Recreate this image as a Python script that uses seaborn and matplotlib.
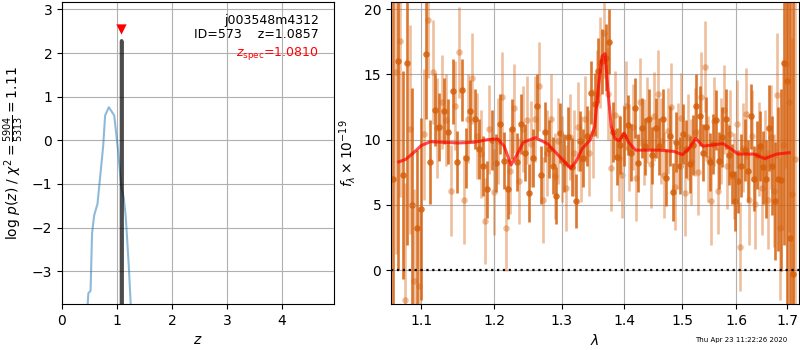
import numpy as np
import pandas as pd
import matplotlib
matplotlib.use("Agg")
import matplotlib.pyplot as plt
import seaborn as sns
from matplotlib.ticker import FixedLocator, FixedFormatter, NullLocator

# ---- p(z) panel ----
pz_z = [0.455, 0.48, 0.52, 0.547, 0.585, 0.645, 0.687, 0.748, 0.785, 0.852,
        0.95, 1.02, 1.08, 1.125, 1.16, 1.216, 1.25, 1.26]
pz_logp = [-4.0, -3.5, -3.45, -2.13, -1.72, -1.46, -0.93, -0.15, 0.57, 0.76,
           0.57, -0.23, -1.07, -1.32, -1.75, -2.89, -3.75, -4.0]
fine_z = [1.084, 1.0857, 1.0874]
fine_logp = [-4.0, 2.28, -4.0]
z_best = 1.0857
z_spec = 1.0810

# ---- spectrum panel: first (dark) spectrum ----
wave_a = [1.064, 1.070, 1.076, 1.082, 1.088, 1.094, 1.100, 1.106, 1.112, 1.118,
          1.124, 1.130, 1.136, 1.142, 1.148, 1.154, 1.160, 1.166, 1.172, 1.178,
          1.184, 1.190, 1.196, 1.202, 1.208, 1.214, 1.220, 1.226, 1.232, 1.238,
          1.244, 1.250, 1.256, 1.262, 1.268, 1.274, 1.280, 1.286, 1.292, 1.298,
          1.304, 1.310, 1.316, 1.322, 1.328, 1.334, 1.340, 1.346, 1.352, 1.358,
          1.364, 1.370, 1.376, 1.382, 1.388, 1.394, 1.400, 1.406, 1.412, 1.418,
          1.424, 1.430, 1.436, 1.442, 1.448, 1.454, 1.460, 1.466, 1.472, 1.478,
          1.484, 1.490, 1.496, 1.502, 1.508, 1.514, 1.520, 1.526, 1.532, 1.538,
          1.544, 1.550, 1.556, 1.562, 1.568, 1.574, 1.580, 1.586, 1.592, 1.598,
          1.604, 1.610, 1.616, 1.622, 1.628, 1.634, 1.640, 1.646, 1.652, 1.658,
          1.664, 1.670, 1.676, 1.682, 1.688, 1.694, 1.700, 1.706, 1.712]
flux_a = [7.0, 16.0, 7.3, 15.9, 5.0, 3.2, 4.7, 16.6, 8.3, 12.3,
          11.0, 12.2, 10.6, 13.7, 8.3, 13.8, 8.6, 12.2, 11.6, 9.3,
          8.0, 6.2, 10.0, 8.2, 11.2, 8.4, 6.2, 10.8, 8.3, 11.2,
          9.0, 5.9, 8.6, 12.6, 7.3, 10.6, 9.3, 8.0, 5.7, 10.5,
          8.2, 10.2, 7.9, 5.3, 9.9, 8.6, 10.3, 13.6, 12.7, 15.3,
          16.0, 16.3, 17.5, 10.6, 8.7, 9.6, 10.3, 11.1, 9.0, 12.4,
          8.2, 10.9, 9.5, 11.6, 8.8, 10.9, 9.5, 11.6, 7.1, 10.3,
          6.0, 9.8, 8.0, 10.4, 9.3, 8.1, 9.6, 12.6, 11.8, 9.0,
          11.0, 8.3, 9.7, 11.5, 8.4, 10.2, 11.6, 8.8, 7.4, 5.3,
          6.8, 8.0, 9.2, 7.6, 11.8, 7.0, 8.8, 9.5, 7.9, 7.0,
          10.9, 8.0, 5.3, 7.0, 6.9, 15.9, 14.5, 2.5, -0.3]
err_a = [14, 16, 8, 14, 9, 6, 7, 5, 3.2, 2.8,
         2.6, 2.5, 2.5, 2.5, 2.4, 2.4, 2.3, 2.4, 2.3, 2.3,
         2.3, 2.2, 2.3, 2.2, 2.3, 2.2, 2.3, 2.3, 2.2, 2.3,
         2.2, 2.2, 2.2, 2.4, 2.2, 2.3, 2.2, 2.2, 2.2, 2.3,
         2.2, 2.3, 2.2, 2.1, 2.3, 2.2, 2.3, 2.4, 2.4, 2.5,
         2.5, 2.6, 2.5, 2.3, 2.2, 2.2, 2.3, 2.3, 2.2, 2.3,
         2.2, 2.3, 2.2, 2.3, 2.2, 2.3, 2.2, 2.3, 2.2, 2.3,
         2.2, 2.3, 2.2, 2.3, 2.2, 2.2, 2.3, 2.4, 2.3, 2.2,
         2.3, 2.2, 2.3, 2.3, 2.2, 2.3, 2.3, 2.3, 2.3, 2.3,
         2.4, 2.4, 2.4, 2.4, 2.5, 2.5, 2.6, 2.7, 2.8, 3.0,
         3.3, 3.8, 4.5, 5.5, 7.0, 14, 20, 25, 30]

# ---- spectrum panel: second (light) spectrum ----
wave_b = [1.067, 1.073, 1.079, 1.085, 1.091, 1.097, 1.103, 1.109, 1.115, 1.121,
          1.127, 1.133, 1.139, 1.145, 1.151, 1.157, 1.163, 1.169, 1.175, 1.181,
          1.187, 1.193, 1.199, 1.205, 1.211, 1.217, 1.223, 1.229, 1.235, 1.241,
          1.247, 1.253, 1.259, 1.265, 1.271, 1.277, 1.283, 1.289, 1.295, 1.301,
          1.307, 1.313, 1.319, 1.325, 1.331, 1.337, 1.343, 1.349, 1.355, 1.361,
          1.367, 1.373, 1.379, 1.385, 1.391, 1.397, 1.403, 1.409, 1.415, 1.421,
          1.427, 1.433, 1.439, 1.445, 1.451, 1.457, 1.463, 1.469, 1.475, 1.481,
          1.487, 1.493, 1.499, 1.505, 1.511, 1.517, 1.523, 1.529, 1.535, 1.541,
          1.547, 1.553, 1.559, 1.565, 1.571, 1.577, 1.583, 1.589, 1.595, 1.601,
          1.607, 1.613, 1.619, 1.625, 1.631, 1.637, 1.643, 1.649, 1.655, 1.661,
          1.667, 1.673, 1.679, 1.685, 1.691, 1.697, 1.703, 1.709, 1.715]
flux_b = [15.2, 17.6, -2.3, 10.8, -0.8, -1.2, 10.4, 19.2, 15.2, 10.9,
          12.9, 11.5, 6.1, 12.6, 16.7, 5.4, 11.6, 14.7, 10.3, 8.9,
          3.8, 10.8, 6.0, 9.9, 13.3, 3.2, 7.6, 12.4, 6.8, 10.8,
          11.5, 9.7, 11.6, 14.1, 5.4, 9.0, 11.6, 7.2, 9.9, 8.5,
          6.3, 10.2, 9.0, 11.0, 8.5, 11.6, 9.0, 10.5, 13.5, 15.9,
          18.2, 13.5, 7.8, 11.9, 8.6, 7.3, 12.6, 9.4, 11.0, 7.1,
          12.9, 9.8, 11.5, 8.1, 11.8, 13.5, 9.9, 7.3, 10.7, 12.5,
          6.4, 9.5, 11.7, 5.9, 10.2, 8.3, 10.6, 7.5, 13.3, 15.6,
          8.5, 5.3, 11.4, 6.1, 9.9, 12.3, 8.0, 10.4, 7.2, 11.2,
          1.8, 9.4, 12.0, 5.4, 10.3, 5.1, 9.3, 6.3, 8.7, 5.4,
          10.2, 6.1, 13.4, 3.2, 9.6, 15.8, 12.9, 5.8, 8.5]
err_b = [14, 12, 9, 8, 7, 6, 5, 4.5, 4.0, 3.8,
         3.6, 3.5, 3.5, 3.4, 3.5, 3.4, 3.4, 3.5, 3.3, 3.4,
         3.3, 3.4, 3.3, 3.3, 3.4, 3.3, 3.3, 3.4, 3.3, 3.3,
         3.4, 3.3, 3.3, 3.4, 3.3, 3.3, 3.4, 3.3, 3.3, 3.3,
         3.3, 3.3, 3.3, 3.4, 3.3, 3.3, 3.3, 3.4, 3.4, 3.5,
         3.5, 3.5, 3.3, 3.4, 3.3, 3.3, 3.4, 3.3, 3.3, 3.3,
         3.4, 3.3, 3.3, 3.3, 3.4, 3.4, 3.3, 3.3, 3.3, 3.4,
         3.3, 3.3, 3.4, 3.3, 3.3, 3.3, 3.4, 3.3, 3.4, 3.5,
         3.3, 3.4, 3.4, 3.3, 3.3, 3.4, 3.3, 3.4, 3.3, 3.4,
         3.4, 3.4, 3.5, 3.5, 3.5, 3.5, 3.6, 3.6, 3.6, 3.8,
         4.0, 4.3, 4.8, 5.5, 6.5, 8.0, 10, 12, 14]

# ---- best-fit model ----
model_wave = [1.071, 1.080, 1.090, 1.100, 1.112, 1.130, 1.150, 1.170, 1.190, 1.205,
              1.214, 1.224, 1.232, 1.242, 1.260, 1.278, 1.295, 1.314, 1.322, 1.332,
              1.345, 1.352, 1.358, 1.364, 1.369, 1.374, 1.379, 1.385, 1.392, 1.400,
              1.408, 1.419, 1.440, 1.460, 1.486, 1.501, 1.512, 1.525, 1.538, 1.555,
              1.575, 1.590, 1.603, 1.634, 1.655, 1.679, 1.704]
model_flux = [8.3, 8.5, 9.0, 9.55, 9.85, 9.8, 9.75, 9.8, 10.0, 10.05,
              9.5, 8.06, 8.8, 9.8, 10.15, 9.7, 8.8, 7.8, 8.3, 9.3,
              10.0, 11.0, 14.0, 16.4, 16.6, 13.5, 11.0, 10.1, 9.9, 10.5,
              9.8, 9.2, 9.2, 9.2, 9.1, 8.85, 9.3, 10.1, 9.5, 9.6,
              9.7, 9.3, 8.9, 8.9, 8.55, 8.9, 9.0]

obj_name = "j003548m4312"
obj_id = 573
chi2_num, chi2_den = 5904, 5313
stamp = "Thu Apr 23 11:22:26 2020"

dark = "#d5600c"
plt.rcParams['font.family'] = ['DejaVu Sans']

fig = plt.figure(figsize=(8, 3.5), dpi=100)
ax1 = fig.add_axes([0.0775, 0.1314, 0.34, 0.8629])
ax2 = fig.add_axes([0.48875, 0.1314, 0.51, 0.8629])

# p(z)
sns.lineplot(x=pz_z, y=pz_logp, ax=ax1, color="C0", alpha=0.5, lw=1.5, sort=False)
sns.lineplot(x=fine_z, y=fine_logp, ax=ax1, color="k", alpha=0.7, lw=2.6, sort=False)
sns.scatterplot(x=[z_spec], y=[2.55], ax=ax1, marker="v", color="red", s=55,
                linewidth=0, zorder=5)
ax1.set_xlim(0, 4.95)
ax1.set_ylim(-3.75, 3.17)
ax1.set_xticks([0, 1, 2, 3, 4])
ax1.set_yticks([-3, -2, -1, 0, 1, 2, 3])
ax1.grid(True, color="#b0b0b0", lw=0.8)
ax1.set_xlabel(r"$z$", fontsize=10)
ax1.set_ylabel(r"log $p(z)$ / $\chi^2=\frac{%d}{%d}=%.2f$"
               % (chi2_num, chi2_den, chi2_num / chi2_den), fontsize=10)
ax1.tick_params(labelsize=10)
ax1.text(0.945, 0.94, obj_name, transform=ax1.transAxes, ha="right", va="center", fontsize=9)
ax1.text(0.945, 0.893, "ID=%d    z=%.4f" % (obj_id, z_best), transform=ax1.transAxes,
         ha="right", va="center", fontsize=9)
ax1.text(0.945, 0.83, r"$z_\mathrm{spec}$=%.4f" % z_spec, transform=ax1.transAxes,
         ha="right", va="center", fontsize=9, color="red")

# spectrum
ax2.errorbar(wave_b, flux_b, yerr=err_b, fmt="none", ecolor=dark, alpha=0.4, elinewidth=1.9)
sns.scatterplot(x=wave_b, y=flux_b, ax=ax2, color=dark, alpha=0.4, s=22, linewidth=0)
ax2.errorbar(wave_a, flux_a, yerr=err_a, fmt="none", ecolor=dark, alpha=0.85, elinewidth=1.9)
sns.scatterplot(x=wave_a, y=flux_a, ax=ax2, color=dark, alpha=0.85, s=22, linewidth=0)
sns.lineplot(x=model_wave, y=model_flux, ax=ax2, color="red", alpha=0.7, lw=2.2, sort=False,
             zorder=6)
ax2.axhline(0, color="k", ls=":", lw=1.6, zorder=7)

ax2.set_xscale("log")
ax2.set_xlim(1.0611, 1.7241)
ax2.set_ylim(-2.6, 20.56)
wticks = [1.1, 1.2, 1.3, 1.4, 1.5, 1.6, 1.7]
ax2.xaxis.set_major_locator(FixedLocator(wticks))
ax2.xaxis.set_major_formatter(FixedFormatter(["%.1f" % w for w in wticks]))
ax2.xaxis.set_minor_locator(NullLocator())
ax2.set_yticks([0, 5, 10, 15, 20])
ax2.grid(True, color="#b0b0b0", lw=0.8)
ax2.tick_params(labelsize=10)
ax2.set_xlabel(r"$\lambda$", fontsize=10)
ax2.set_ylabel(r"$f_\lambda\times10^{-19}$", fontsize=10)

fig.text(0.984, 0.029, stamp, ha="right", va="center", fontsize=5)

fig.savefig("out.png", dpi=100)
